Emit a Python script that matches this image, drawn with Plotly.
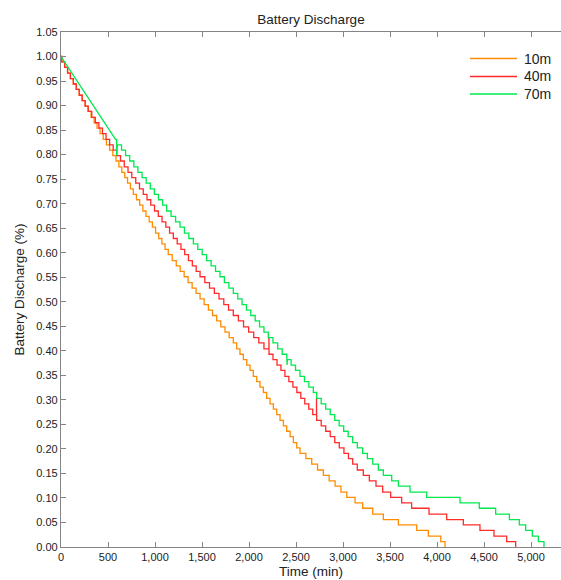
import plotly.graph_objects as go

# Quantised battery levels (fraction of full charge)
LEVELS = [1.000, 0.989, 0.978, 0.966, 0.955, 0.944, 0.933, 0.921, 0.910, 0.899,
          0.888, 0.876, 0.865, 0.854, 0.843, 0.831, 0.820, 0.809, 0.798, 0.787,
          0.775, 0.764, 0.753, 0.742, 0.730, 0.719, 0.708, 0.697, 0.685, 0.674,
          0.663, 0.652, 0.640, 0.629, 0.618, 0.607, 0.596, 0.584, 0.573, 0.562,
          0.551, 0.539, 0.528, 0.517, 0.506, 0.494, 0.483, 0.472, 0.461, 0.449,
          0.438, 0.427, 0.416, 0.404, 0.393, 0.382, 0.371, 0.360, 0.348, 0.337,
          0.326, 0.315, 0.303, 0.292, 0.281, 0.270, 0.258, 0.247, 0.236, 0.225,
          0.213, 0.202, 0.191, 0.180, 0.169, 0.157, 0.146, 0.135, 0.124, 0.112,
          0.101, 0.090, 0.079, 0.067, 0.056, 0.045, 0.034, 0.022, 0.011, 0.000]

# Time (min) at which each level is first reached (None = no sample)
T_10M = [0, 8, 39, 70, 100, 131, 162, 194, 225, 257,
         289, 320, 352, 383, 415, 449, 483, 517, 551, 585,
         616, 647, 678, 708, 739, 769, 803, 837, 871, 904,
         938, 972, 1006, 1040, 1073, 1107, 1141, 1183, 1226, 1268,
         1310, 1352, 1395, 1437, 1479, 1523, 1568, 1612, 1656, 1700,
         1745, 1789, 1833, 1869, 1904, 1940, 1976, 2011, 2046, 2082,
         2117, 2153, 2188, 2224, 2259, 2295, 2330, 2366, 2401, 2437,
         2472, 2508, 2543, 2605, 2667, 2729, 2791, 2853, 2916, 2978,
         3040, 3128, 3209, 3316, 3429, 3589, 3784, 3908, 4040, 4085]

T_40M = [0, 8, 39, 70, 100, 131, 162, 194, 225, 257,
         289, 327, 365, 403, 441, 479, 517, 555, 593, 633,
         673, 713, 753, 795, 835, 875, 915, 955, 995, 1035,
         1075, 1115, 1155, 1195, 1236, 1276, 1316, 1356, 1397, 1438,
         1479, 1530, 1580, 1631, 1681, 1732, 1782, 1833, 1887, 1942,
         1996, 2050, 2104, 2159, 2213, 2255, 2298, 2340, 2382, 2424,
         2467, 2509, 2551, 2593, 2636, 2678, 2720, 2768, 2816, 2864,
         2912, 2960, 3010, 3058, 3103, 3152, 3216, 3280, 3351, 3422,
         3507, 3624, 3730, 3915, 4103, 4280, 4457, 4606, 4741, 4837]

T_70M = [0, None, None, None, None, None, None, None, None, None,
         None, None, None, None, None, 580, 600, 644, 687, 731,
         775, 818, 862, 906, 950, 993, 1037, 1081, 1124, 1171,
         1219, 1266, 1313, 1360, 1408, 1455, 1502, 1549, 1597, 1644,
         1691, 1738, 1786, 1833, 1880, 1926, 1973, 2019, 2066, 2112,
         2159, 2205, 2255, 2305, 2353, 2401, 2448, 2495, 2542, 2590,
         2637, 2684, 2720, 2768, 2816, 2864, 2912, 2959, 3007, 3055,
         3103, 3152, 3209, 3259, 3316, 3376, 3429, 3518, 3589, 3713,
         3890, 4245, 4450, 4624, 4770, 4876, 4943, 5014, 5078, 5138]

# Isolated out-of-sequence readings
GLITCH_10M_T, GLITCH_10M_V = [], []
GLITCH_40M_T, GLITCH_40M_V = [2212, 2718], [0.427, 0.303]
GLITCH_70M_T, GLITCH_70M_V = [592, 2405, 2408], [0.798, 0.371, 0.382]

SERIES = ["10m", "40m", "70m"]
COLORS = ["#ff8c00", "#ff2a2a", "#00e84e"]

X_TICKS = [0, 500, 1000, 1500, 2000, 2500, 3000, 3500, 4000, 4500, 5000]
Y_TICKS = [round(i * 0.05, 2) for i in range(22)]


def staircase(times, gt, gv):
    ev = []
    gap = False
    for t, v in zip(times, LEVELS):
        if t is None:
            gap = True
            continue
        ev.append((t, v, gap))
        gap = False
    ev += [(t, v, False) for t, v in zip(gt, gv)]
    ev.sort(key=lambda e: e[0])
    xs, ys = [], []
    for i, (t, v, g) in enumerate(ev):
        if i > 0 and not g:
            xs.append(t)
            ys.append(ys[-1])
        xs.append(t)
        ys.append(v)
    return xs, ys


fig = go.Figure()
data = [(T_10M, GLITCH_10M_T, GLITCH_10M_V),
        (T_40M, GLITCH_40M_T, GLITCH_40M_V),
        (T_70M, GLITCH_70M_T, GLITCH_70M_V)]
for name, col, (tt, gt, gv) in zip(SERIES, COLORS, data):
    xs, ys = staircase(tt, gt, gv)
    fig.add_trace(go.Scatter(x=xs, y=ys, mode="lines", name=name,
                             line=dict(color=col, width=1.3),
                             showlegend=False))

# Legend drawn as line samples + text, top-right inside the plot
LEG_Y = [0.9485, 0.9136, 0.8796]
shapes, annos = [], []
for name, col, ly in zip(SERIES, COLORS, LEG_Y):
    shapes.append(dict(type="line", xref="paper", yref="paper",
                       x0=0.818, x1=0.912, y0=ly, y1=ly,
                       line=dict(color=col, width=1.3)))
    annos.append(dict(text=name, xref="paper", yref="paper", x=0.922, y=ly,
                      xanchor="left", yanchor="middle", showarrow=False,
                      font=dict(size=14, color="#222222")))

FONT = "Liberation Sans, Arial, Helvetica, sans-serif"
AX = "#858585"
fig.update_layout(
    width=561, height=580,
    margin=dict(l=61, r=0, t=32, b=33),
    paper_bgcolor="white", plot_bgcolor="white",
    font=dict(family=FONT, size=11, color="#222222"),
    title=dict(text="Battery Discharge", x=0.5, xref="paper", xanchor="center",
               y=1 - 19 / 580, yref="container", yanchor="middle",
               font=dict(size=13.5, color="#222222")),
    showlegend=False,
    shapes=shapes,
    annotations=annos,
    xaxis=dict(range=[0, 5319], tickvals=X_TICKS, tickformat=",d",
               showgrid=False, zeroline=False, showline=True, linecolor=AX,
               linewidth=1.3, mirror="ticks", ticks="inside", ticklen=5,
               tickcolor=AX, tickwidth=1.3,
               title=dict(text="Time (min)", font=dict(size=13.5), standoff=4)),
    yaxis=dict(range=[0, 1.05], tickvals=Y_TICKS, tickformat=".2f",
               showgrid=False, zeroline=False, showline=True, linecolor=AX,
               linewidth=1.3, mirror=False, ticks="inside", ticklen=5,
               tickcolor=AX, tickwidth=1.3,
               title=dict(text="Battery Discharge (%)", font=dict(size=13.5),
                          standoff=8)),
)

fig.write_html("out.html")
